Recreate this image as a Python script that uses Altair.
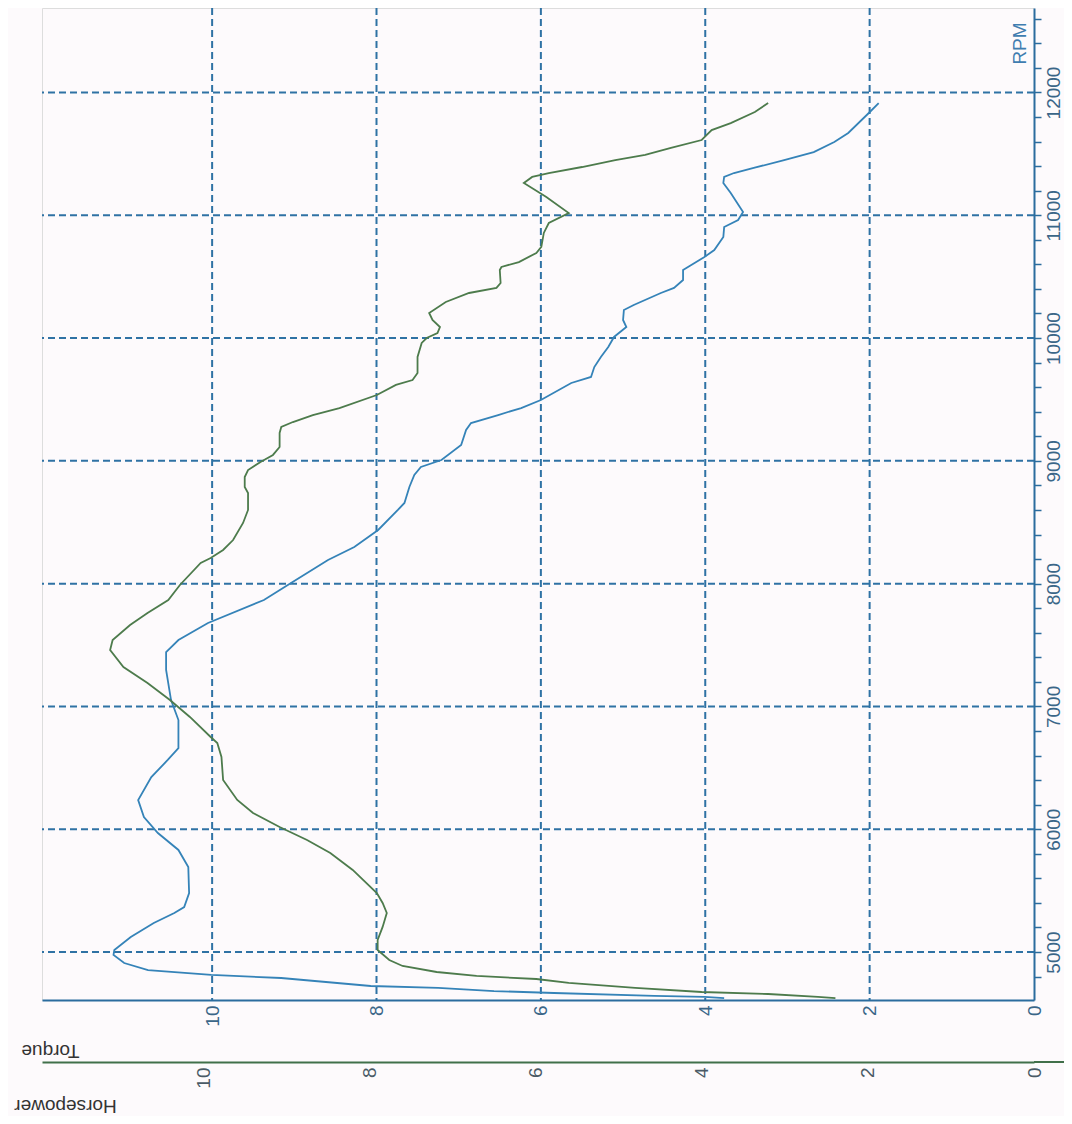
import altair as alt
import pandas as pd

# ---- data read from the (rotated) dyno sheet ----
torque_rpm = [4625, 4634, 4642, 4666, 4682, 4707, 4723, 4788, 4813, 4853, 4910, 4976, 5016,
              5122, 5236, 5318, 5366, 5480, 5692, 5831, 5969, 6099, 6238, 6425, 6564, 6661,
              6889, 7052, 7297, 7443, 7541, 7679, 7867, 8005, 8192, 8298, 8437, 8600, 8657,
              8787, 8885, 8950, 9007, 9129, 9251, 9308, 9373, 9430, 9495, 9634, 9683, 9764,
              9846, 9927, 10009, 10090, 10147, 10228, 10269, 10367, 10408, 10473, 10554,
              10579, 10660, 10717, 10823, 10904, 10961, 11027, 11181, 11263, 11312, 11344,
              11385, 11450, 11515, 11597, 11670, 11833, 11914]
torque_val = [3.77, 4.01, 4.62, 5.84, 6.57, 7.25, 8.07, 9.16, 10.01, 10.78, 11.07, 11.20, 11.19,
              10.99, 10.71, 10.46, 10.34, 10.28, 10.29, 10.41, 10.66, 10.83, 10.90, 10.74, 10.54,
              10.41, 10.41, 10.50, 10.56, 10.56, 10.41, 10.05, 9.37, 9.04, 8.59, 8.27, 7.98,
              7.74, 7.66, 7.60, 7.54, 7.46, 7.21, 6.97, 6.91, 6.85, 6.52, 6.24, 6.00, 5.63,
              5.39, 5.35, 5.27, 5.18, 5.11, 4.96, 5.00, 4.99, 4.87, 4.54, 4.38, 4.27, 4.27,
              4.21, 4.01, 3.89, 3.78, 3.77, 3.60, 3.54, 3.69, 3.78, 3.77, 3.65, 3.41, 3.04,
              2.68, 2.43, 2.26, 2.01, 1.89]

hp_rpm = [4625, 4634, 4658, 4674, 4707, 4748, 4780, 4805, 4837, 4886, 4935, 5016, 5098, 5204,
          5318, 5399, 5480, 5668, 5806, 5912, 6018, 6132, 6238, 6401, 6588, 6702, 6751, 6914,
          7052, 7191, 7321, 7459, 7541, 7663, 7761, 7867, 7989, 8168, 8209, 8274, 8355, 8494,
          8600, 8738, 8787, 8868, 8925, 8991, 9048, 9113, 9227, 9276, 9316, 9373, 9430, 9536,
          9618, 9658, 9715, 9846, 9960, 10000, 10041, 10090, 10147, 10204, 10294, 10367,
          10408, 10448, 10554, 10579, 10619, 10693, 10742, 10856, 10937, 11018, 11149, 11263,
          11312, 11344, 11393, 11450, 11491, 11548, 11613, 11694, 11751, 11841, 11914]
hp_val = [2.39, 2.60, 3.20, 4.00, 4.80, 5.60, 5.99, 6.71, 7.19, 7.60, 7.76, 7.90, 7.90, 7.84,
          7.79, 7.84, 7.91, 8.20, 8.47, 8.75, 9.08, 9.40, 9.59, 9.76, 9.78, 9.83, 9.91, 10.16,
          10.40, 10.67, 10.96, 11.12, 11.09, 10.88, 10.67, 10.42, 10.28, 10.03, 9.91, 9.76,
          9.64, 9.52, 9.46, 9.46, 9.50, 9.50, 9.46, 9.31, 9.16, 9.08, 9.08, 9.06, 8.92, 8.68,
          8.36, 7.91, 7.68, 7.48, 7.42, 7.42, 7.37, 7.31, 7.18, 7.15, 7.24, 7.28, 7.08, 6.80,
          6.47, 6.42, 6.43, 6.41, 6.20, 5.99, 5.93, 5.90, 5.84, 5.60, 5.87, 6.14, 6.04, 5.84,
          5.44, 5.04, 4.68, 4.37, 4.00, 3.88, 3.65, 3.36, 3.20]

rpm_grid = [5000, 6000, 7000, 8000, 9000, 10000, 11000, 12000]
rpm_ticks = [4800, 5000, 5200, 5400, 5600, 5800, 6000, 6200, 6400, 6600, 6800, 7000, 7200,
             7400, 7600, 7800, 8000, 8200, 8400, 8600, 8800, 9000, 9200, 9400, 9600, 9800,
             10000, 10200, 10400, 10600, 10800, 11000, 11200, 11400, 11600, 11800, 12000,
             12200, 12400, 12600]
value_grid = [2, 4, 6, 8, 10]
value_labels = [0, 2, 4, 6, 8, 10]

# ---- styling ----
BG = "#fdfafc"
GRID = "#2f72a4"
BLUE_AXIS = "#2b6c9e"
GREEN_AXIS = "#41704a"
BLUE_LINE = "#3583b8"
GREEN_LINE = "#4d7b4c"
LABEL = "#3a6688"
FONT = "Liberation Sans"

torque_scale = alt.Scale(domain=[0, 12.07], reverse=True, nice=False, zero=False)
hp_scale = alt.Scale(domain=[0, 11.94], reverse=True, nice=False, zero=False)
y_scale = alt.Scale(domain=[4609, 12688], nice=False, zero=False)

y_axis = alt.Axis(
    orient="right", values=rpm_ticks,
    labelExpr="datum.value % 1000 === 0 ? format(datum.value, 'd') : ''",
    grid=False, tickSize=7, tickWidth=1.5, tickColor=BLUE_AXIS,
    domainColor=BLUE_AXIS, domainWidth=2,
    labelAngle=270, labelAlign="center", labelBaseline="top", labelPadding=3,
    labelFontSize=19, labelColor=LABEL, labelFont=FONT,
    labelFlush=False, labelOverlap=False,
    title="RPM", titleAngle=270, titleX=-15, titleY=35, titleAlign="center",
    titleBaseline="middle", titleFontSize=19, titleFontWeight="normal",
    titleColor="#3f7db0", titleFont=FONT,
)

torque_axis = alt.Axis(
    orient="bottom", values=value_labels, grid=False, ticks=False,
    domainColor=BLUE_AXIS, domainWidth=2,
    labelAngle=270, labelAlign="right", labelBaseline="middle", labelPadding=5,
    labelFontSize=19, labelColor=LABEL, labelFont=FONT,
    labelFlush=False, labelOverlap=False,
    title="Torque", titleAngle=180, titleX=8, titleY=50, titleAlign="center",
    titleBaseline="middle", titleFontSize=19, titleFontWeight="normal",
    titleColor="#333333", titleFont=FONT,
)

hp_axis = alt.Axis(
    orient="bottom", offset=62, values=value_labels, grid=False, ticks=False,
    domainColor=GREEN_AXIS, domainWidth=2,
    labelAngle=270, labelAlign="right", labelBaseline="middle", labelPadding=5,
    labelFontSize=19, labelColor="#4a5a66", labelFont=FONT,
    labelFlush=False, labelOverlap=False,
    title="Horsepower", titleAngle=180, titleX=23, titleY=43, titleAlign="center",
    titleBaseline="middle", titleFontSize=19, titleFontWeight="normal",
    titleColor="#333333", titleFont=FONT,
)

vgrid = alt.Chart(pd.DataFrame({"v": value_grid})).mark_rule(
    color=GRID, strokeDash=[7, 4], strokeWidth=2
).encode(x=alt.X("v:Q", scale=torque_scale, axis=None))

hgrid = alt.Chart(pd.DataFrame({"r": rpm_grid})).mark_rule(
    color=GRID, strokeDash=[7, 4], strokeWidth=2
).encode(y=alt.Y("r:Q", scale=y_scale, axis=y_axis))

torque_df = pd.DataFrame({"rpm": torque_rpm, "torque": torque_val})
hp_df = pd.DataFrame({"rpm": hp_rpm, "hp": hp_val})

torque_line = alt.Chart(torque_df).mark_line(color=BLUE_LINE, strokeWidth=1.8).encode(
    x=alt.X("torque:Q", scale=torque_scale, axis=torque_axis),
    y=alt.Y("rpm:Q", scale=y_scale, axis=y_axis),
    order=alt.Order("rpm:Q"),
)

hp_line = alt.Chart(hp_df).mark_line(color=GREEN_LINE, strokeWidth=1.8).encode(
    x=alt.X("hp:Q", scale=hp_scale, axis=hp_axis),
    y=alt.Y("rpm:Q", scale=y_scale, axis=y_axis),
    order=alt.Order("rpm:Q"),
)

# horsepower axis line continues past the RPM axis on the sheet
hp_ext = alt.Chart(pd.DataFrame({"k": [0]})).mark_rule(
    color=GREEN_AXIS, strokeWidth=2
).encode(x=alt.value(992), x2=alt.value(1030), y=alt.value(1054))

chart = alt.layer(vgrid, hgrid, torque_line, hp_line, hp_ext).resolve_scale(
    x="independent"
).properties(
    width=992, height=992,
    padding={"left": 34, "top": 0, "right": 30, "bottom": 116},
    autosize=alt.AutoSizeParams(type="none"),
    background=BG,
).configure_view(stroke=None).configure(font=FONT)

chart.save("out.html", embed_options={"renderer": "svg", "actions": False})
